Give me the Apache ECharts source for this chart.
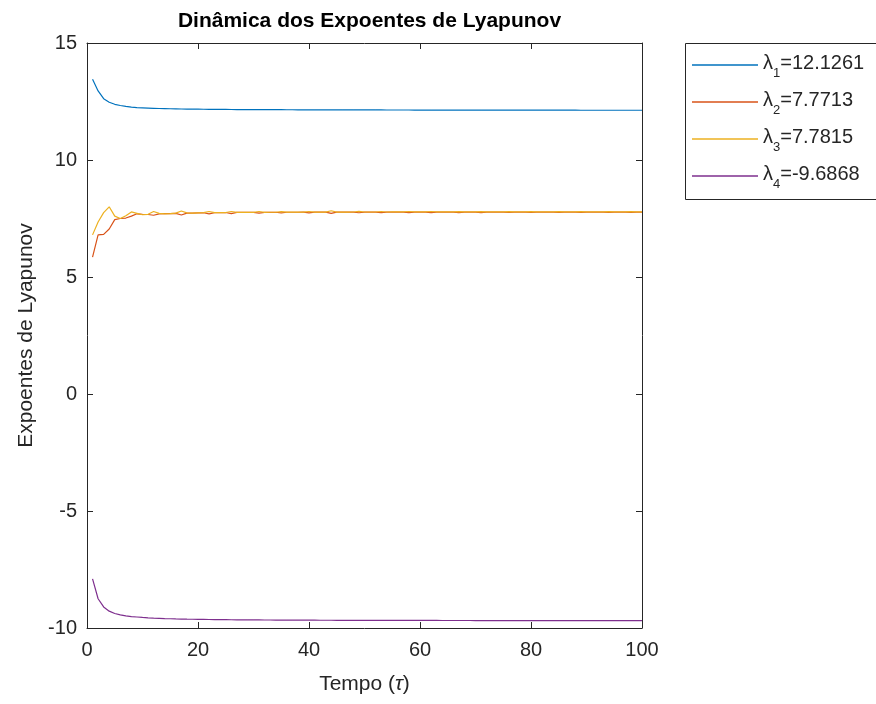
<!DOCTYPE html>
<html>
<head>
<meta charset="utf-8">
<script src="https://cdn.jsdelivr.net/npm/echarts@6/dist/echarts.min.js"></script>
<style>
  html, body { margin: 0; padding: 0; background: #fff; }
  #chart { width: 876px; height: 704px; }
</style>
</head>
<body>
<div id="chart"></div>
<script>
// Time steps (tau) of the Lyapunov exponent estimates
const tau = [];
for (let t = 1; t <= 100; t++) tau.push(t);

const xTicks = [0, 20, 40, 60, 80, 100];
const yTicks = [-10, -5, 0, 5, 10, 15];

const lambda1 = [
  13.45, 12.95, 12.62, 12.47, 12.38, 12.33, 12.29, 12.26, 12.24, 12.23,
  12.22, 12.21, 12.20, 12.195, 12.19, 12.185, 12.18, 12.176, 12.173, 12.17,
  12.168, 12.166, 12.164, 12.162, 12.16, 12.158, 12.157, 12.156, 12.155, 12.154,
  12.153, 12.152, 12.151, 12.15, 12.149, 12.148, 12.147, 12.146, 12.146, 12.145,
  12.144, 12.144, 12.143, 12.142, 12.142, 12.141, 12.141, 12.14, 12.14, 12.139,
  12.139, 12.138, 12.138, 12.137, 12.137, 12.137, 12.136, 12.136, 12.135, 12.135,
  12.135, 12.134, 12.134, 12.134, 12.133, 12.133, 12.133, 12.132, 12.132, 12.132,
  12.131, 12.131, 12.131, 12.131, 12.130, 12.130, 12.130, 12.130, 12.129, 12.129,
  12.129, 12.129, 12.129, 12.128, 12.128, 12.128, 12.128, 12.128, 12.127, 12.127,
  12.127, 12.127, 12.127, 12.127, 12.127, 12.126, 12.126, 12.126, 12.126, 12.1261
];

const lambda2 = [
  5.85, 6.8, 6.82, 7.05, 7.45, 7.5, 7.52, 7.6, 7.7, 7.68,
  7.67, 7.64, 7.7, 7.71, 7.71, 7.72, 7.65, 7.73, 7.73, 7.74,
  7.745, 7.7, 7.75, 7.75, 7.755, 7.71, 7.76, 7.76, 7.76, 7.762,
  7.73, 7.763, 7.765, 7.766, 7.74, 7.767, 7.768, 7.768, 7.769, 7.74,
  7.77, 7.77, 7.77, 7.72, 7.77, 7.77, 7.77, 7.77, 7.745, 7.77,
  7.77, 7.77, 7.75, 7.77, 7.77, 7.77, 7.771, 7.75, 7.771, 7.771,
  7.771, 7.752, 7.771, 7.771, 7.771, 7.771, 7.754, 7.771, 7.771, 7.771,
  7.755, 7.771, 7.771, 7.771, 7.771, 7.756, 7.771, 7.771, 7.771, 7.757,
  7.771, 7.771, 7.771, 7.771, 7.758, 7.771, 7.771, 7.771, 7.759, 7.7713,
  7.7713, 7.7713, 7.7713, 7.76, 7.7713, 7.7713, 7.7713, 7.761, 7.7713, 7.7713
];

const lambda3 = [
  6.8, 7.35, 7.75, 8.0, 7.6, 7.5, 7.62, 7.78, 7.72, 7.66,
  7.68, 7.8, 7.72, 7.7, 7.71, 7.73, 7.82, 7.74, 7.73, 7.74,
  7.75, 7.8, 7.75, 7.75, 7.755, 7.8, 7.76, 7.76, 7.76, 7.765,
  7.8, 7.765, 7.767, 7.768, 7.795, 7.77, 7.77, 7.77, 7.772, 7.8,
  7.773, 7.774, 7.774, 7.83, 7.775, 7.776, 7.776, 7.777, 7.805, 7.777,
  7.778, 7.778, 7.80, 7.778, 7.779, 7.779, 7.779, 7.80, 7.779, 7.779,
  7.78, 7.80, 7.78, 7.78, 7.78, 7.78, 7.797, 7.78, 7.78, 7.78,
  7.796, 7.78, 7.78, 7.78, 7.781, 7.795, 7.781, 7.781, 7.781, 7.795,
  7.781, 7.781, 7.781, 7.781, 7.794, 7.781, 7.781, 7.781, 7.793, 7.781,
  7.781, 7.781, 7.781, 7.792, 7.7815, 7.7815, 7.7815, 7.791, 7.7815, 7.7815
];

const lambda4 = [
  -7.9, -8.75, -9.1, -9.28, -9.38, -9.44, -9.48, -9.51, -9.53, -9.55,
  -9.565, -9.578, -9.588, -9.597, -9.605, -9.612, -9.618, -9.623, -9.627, -9.631,
  -9.634, -9.637, -9.640, -9.643, -9.645, -9.647, -9.649, -9.651, -9.653, -9.655,
  -9.656, -9.658, -9.659, -9.660, -9.661, -9.662, -9.663, -9.664, -9.665, -9.666,
  -9.667, -9.668, -9.668, -9.669, -9.670, -9.670, -9.671, -9.672, -9.672, -9.673,
  -9.673, -9.674, -9.674, -9.675, -9.675, -9.676, -9.676, -9.677, -9.677, -9.677,
  -9.678, -9.678, -9.678, -9.679, -9.679, -9.679, -9.680, -9.680, -9.680, -9.681,
  -9.681, -9.681, -9.681, -9.682, -9.682, -9.682, -9.682, -9.683, -9.683, -9.683,
  -9.683, -9.684, -9.684, -9.684, -9.684, -9.685, -9.685, -9.685, -9.685, -9.685,
  -9.686, -9.686, -9.686, -9.686, -9.686, -9.686, -9.687, -9.687, -9.687, -9.6868
];

const seriesValues = [lambda1, lambda2, lambda3, lambda4];
const seriesColors = ['#0072BD', '#D95319', '#EDB120', '#7E2F8E'];

const AXIS = '#262626';
const FONT = '"Liberation Sans", Arial, Helvetica, sans-serif';

// legend label: lambda with subscript index and the final value
function legendLabel(i) {
  const vals = seriesValues[i];
  return '{a|λ}{b|' + (i + 1) + '}{a|=' + vals[vals.length - 1].toFixed(4) + '}';
}

const names = seriesValues.map((_, i) => 'L' + (i + 1));

const grid = { left: 87, top: 43, width: 555, height: 585 };

function xAxisDef(pos, showLabel) {
  return {
    type: 'value', position: pos, min: xTicks[0], max: xTicks[xTicks.length - 1], interval: 20,
    axisLine: { show: true, onZero: false, lineStyle: { color: AXIS, width: 1 } },
    axisTick: { show: true, inside: true, length: 6, lineStyle: { color: AXIS } },
    axisLabel: { show: showLabel, color: AXIS, fontSize: 20, fontFamily: FONT, margin: 12 },
    splitLine: { show: false }
  };
}
function yAxisDef(pos, showLabel) {
  return {
    type: 'value', position: pos, min: yTicks[0], max: yTicks[yTicks.length - 1], interval: 5,
    axisLine: { show: true, onZero: false, lineStyle: { color: AXIS, width: 1 } },
    axisTick: { show: true, inside: true, length: 6, lineStyle: { color: AXIS } },
    axisLabel: { show: showLabel, color: AXIS, fontSize: 20, fontFamily: FONT, margin: 10 },
    splitLine: { show: false }
  };
}

const xBottom = xAxisDef('bottom', true);
xBottom.name = 'Tempo ({i|τ})';
xBottom.nameLocation = 'middle';
xBottom.nameGap = 46;
xBottom.nameTextStyle = {
  color: AXIS, fontSize: 21, fontFamily: FONT,
  rich: { i: { fontStyle: 'italic', fontSize: 21, fontFamily: FONT, color: AXIS } }
};

const yLeft = yAxisDef('left', true);
yLeft.name = 'Expoentes de Lyapunov';
yLeft.nameLocation = 'middle';
yLeft.nameGap = 50;
yLeft.nameTextStyle = { color: AXIS, fontSize: 21, fontFamily: FONT };

const chart = echarts.init(document.getElementById('chart'), null, { renderer: 'canvas' });

chart.setOption({
  backgroundColor: '#ffffff',
  animation: false,
  title: {
    text: 'Dinâmica dos Expoentes de Lyapunov',
    left: grid.left + grid.width / 2, top: 6, textAlign: 'center',
    textStyle: { color: '#000', fontSize: 21, fontWeight: 'bold', fontFamily: FONT }
  },
  grid: grid,
  xAxis: [xBottom, xAxisDef('top', false)],
  yAxis: [yLeft, yAxisDef('right', false)],
  graphic: [{
    type: 'rect', z: 0,
    shape: { x: 685.5, y: 43.5, width: 200, height: 156 },
    style: { fill: '#fff', stroke: AXIS, lineWidth: 1 }
  }],
  legend: {
    orient: 'vertical', left: 692, top: 53, padding: 0, itemGap: 10,
    itemWidth: 66, itemHeight: 1.5, icon: 'rect',
    data: names,
    formatter: function (name) { return legendLabel(names.indexOf(name)); },
    textStyle: {
      color: AXIS, fontFamily: FONT,
      rich: {
        a: { fontSize: 20, lineHeight: 24, verticalAlign: 'top', color: AXIS, fontFamily: FONT },
        b: { fontSize: 13, lineHeight: 14, padding: [14, 0, 0, 0], verticalAlign: 'top', color: AXIS, fontFamily: FONT }
      }
    }
  },
  series: seriesValues.map((vals, i) => ({
    name: names[i],
    type: 'line',
    xAxisIndex: 0, yAxisIndex: 0,
    symbol: 'none',
    smooth: false,
    color: seriesColors[i],
    lineStyle: { color: seriesColors[i], width: 1.2 },
    data: tau.map((t, k) => [t, vals[k]])
  }))
});
</script>
</body>
</html>
